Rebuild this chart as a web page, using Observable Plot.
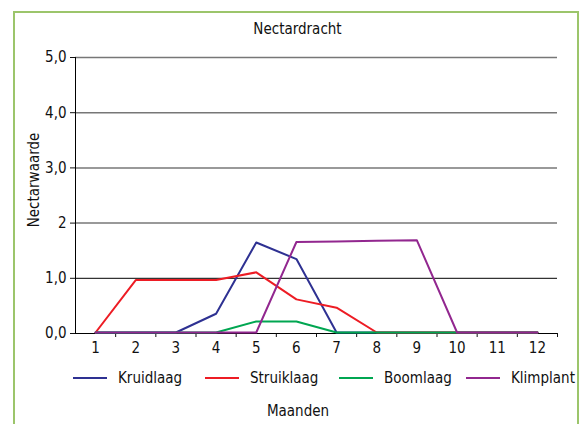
<!DOCTYPE html>
<html>
<head>
<meta charset="utf-8">
<script src="https://cdn.jsdelivr.net/npm/d3@7"></script>
<script src="https://cdn.jsdelivr.net/npm/@observablehq/plot@0.6"></script>
<style>
  html, body { margin: 0; padding: 0; background: #fff; }
  #wrap { position: relative; width: 585px; height: 424px; overflow: hidden;
          font-family: "Liberation Sans Narrow", "DejaVu Sans Condensed", "Roboto Condensed", sans-serif;
          font-stretch: condensed; color: #111; }
  #frame { position: absolute; left: 13px; top: 11px; width: 566px; height: 430px;
           border: 2px solid #9cc56b; box-sizing: border-box; }
  #title { position: absolute; top: 20px; left: 0; width: 595px; text-align: center; font-size: 15px; }
  #ylabel { position: absolute; left: 34px; top: 180px; transform: translate(-50%, -50%) rotate(-90deg);
            font-size: 15px; white-space: nowrap; }
  #chart { position: absolute; left: 0; top: 40px; }
  #legend { position: absolute; top: 369px; left: 0; width: 585px; height: 20px; font-size: 15px; }
  .item { position: absolute; top: 0; display: flex; align-items: center; height: 18px; }
  .sw { width: 34px; height: 2px; margin-right: 11px; }
  #xlabel { position: absolute; top: 402px; left: 0; width: 596px; text-align: center; font-size: 15px; }
</style>
</head>
<body>
<div id="wrap">
  <div id="frame"></div>
  <div id="title">Nectardracht</div>
  <div id="ylabel">Nectarwaarde</div>
  <div id="chart"></div>
  <div id="legend"></div>
  <div id="xlabel">Maanden</div>
</div>
<script>
const months = [1,2,3,4,5,6,7,8,9,10,11,12];
const kruidlaag  = [0,0,0,0.34,1.63,1.33,0,0,0,0,0,0];
const struiklaag = [0,0.95,0.95,0.95,1.09,0.60,0.45,0,0,0,0,0];
const boomlaag   = [0,0,0,0,0.20,0.20,0,0,0,0,0,0];
const klimplant  = [0,0,0,0,0,1.64,1.65,1.66,1.67,0,0,0];
const seriesNames = ["Kruidlaag","Struiklaag","Boomlaag","Klimplant"];
const seriesColors = ["#2e3192","#ed1c24","#00a651","#92278f"];
const yTicks = [0,1,2,3,4,5];
const yTickLabels = ["0,0","1,0","2","3,0","4,0","5,0"];

const seriesValues = [kruidlaag, struiklaag, boomlaag, klimplant];
const data = seriesNames.flatMap((name, i) =>
  months.map((m, j) => ({series: name, month: m, value: seriesValues[i][j]})));

const boundaries = d3.range(1.5, 13, 1);

const chart = Plot.plot({
  width: 585,
  height: 320,
  marginLeft: 75,
  marginRight: 28,
  marginTop: 17,
  marginBottom: 27,
  style: {fontFamily: '"Liberation Sans Narrow", "DejaVu Sans Condensed", sans-serif', fontSize: "15px", color: "#111", background: "transparent"},
  x: {domain: [0.5, 12.5], axis: null},
  y: {domain: [0, 5], axis: null},
  color: {domain: seriesNames, range: seriesColors},
  marks: [
    Plot.ruleY(yTicks.filter(v => v >= 2), {stroke: "#777", strokeWidth: 1.5}),
    Plot.ruleY([1], {stroke: "#000", strokeWidth: 1}),
    Plot.axisY({ticks: yTicks, tickFormat: (d) => yTickLabels[yTicks.indexOf(d)], tickSize: 5, tickPadding: 4, label: null, fontSize: 15}),
    Plot.axisX({ticks: months, tickSize: 0, tickPadding: 9, tickFormat: d => String(d), label: null, fontSize: 15}),
    Plot.axisX({ticks: boundaries, tickSize: 4, tickFormat: () => "", label: null}),
    Plot.ruleX([0.5], {stroke: "#000"}),
    Plot.ruleY([0], {stroke: "#000"}),
    Plot.line(data, {x: "month", y: "value", z: "series", stroke: "series", strokeWidth: 2, dy: -1})
  ]
});
document.getElementById("chart").appendChild(chart);

const legend = document.getElementById("legend");
const legendX = [73, 205, 339, 466];
seriesNames.forEach((name, i) => {
  const item = document.createElement("div");
  item.className = "item";
  item.style.left = legendX[i] + "px";
  const sw = document.createElement("span");
  sw.className = "sw";
  sw.style.background = seriesColors[i];
  const label = document.createElement("span");
  label.textContent = name;
  item.appendChild(sw);
  item.appendChild(label);
  legend.appendChild(item);
});
</script>
</body>
</html>
